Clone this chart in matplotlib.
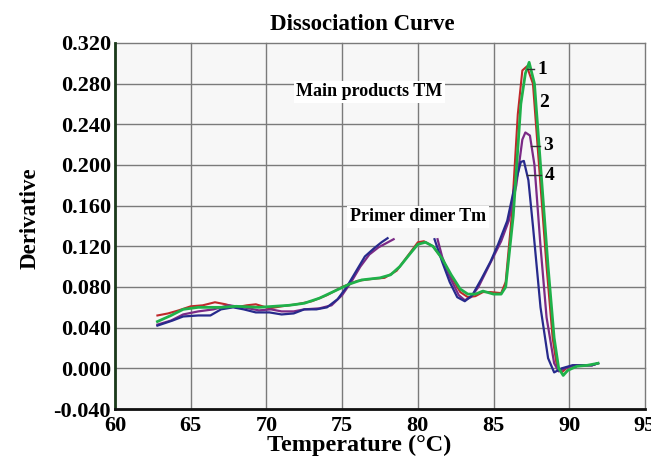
import numpy as np
import matplotlib
matplotlib.use("Agg")
import matplotlib.pyplot as plt

nan = np.nan

# Series 1 (red)
x1 = [62.8, 63.5, 64.2, 65.0, 65.8, 66.6, 67.3, 68.0, 68.7, 69.3, 70.2, 71.0, 72.0, 73.0, 74.0, 75.0, 76.0, 77.0, 77.8, 78.6, 79.3, 80.0, 80.4, 81.0, 81.6, 82.2, 82.8, 83.3, 83.8, 84.3, 84.8, 85.5, 85.8, 86.2, 86.6, 86.9, 87.2, 87.6, 88.0, 88.5, 88.9, 89.2, 89.5, 89.8, 90.3, 91.0, 91.5, 91.9]
y1 = [0.052, 0.054, 0.057, 0.061, 0.062, 0.065, 0.063, 0.060, 0.062, 0.063, 0.059, 0.061, 0.063, 0.066, 0.072, 0.080, 0.086, 0.088, 0.089, 0.096, 0.110, 0.124, 0.125, 0.120, 0.108, 0.090, 0.075, 0.070, 0.071, 0.075, 0.075, 0.074, 0.085, 0.150, 0.250, 0.293, 0.297, 0.280, 0.200, 0.100, 0.030, 0.000, -0.004, 0.000, 0.003, 0.003, 0.003, 0.005]

# Series 2 (green)
x2 = [62.8, 63.7, 64.5, 65.5, 67.0, 68.0, 69.5, 70.5, 71.5, 72.5, 73.5, 74.5, 75.5, 76.3, 77.5, 78.2, 78.8, 79.5, 80.0, 80.5, 81.0, 81.6, 82.2, 82.8, 83.3, 83.8, 84.3, 85.0, 85.5, 85.8, 86.3, 86.8, 87.1, 87.35, 87.7, 88.1, 88.6, 89.0, 89.3, 89.6, 89.9, 90.5, 91.2, 91.9]
y2 = [0.046, 0.052, 0.058, 0.060, 0.060, 0.061, 0.060, 0.061, 0.062, 0.064, 0.069, 0.076, 0.083, 0.087, 0.089, 0.092, 0.100, 0.113, 0.122, 0.124, 0.120, 0.108, 0.092, 0.078, 0.073, 0.073, 0.076, 0.073, 0.073, 0.080, 0.150, 0.260, 0.290, 0.301, 0.280, 0.200, 0.100, 0.030, 0.000, -0.007, -0.002, 0.002, 0.003, 0.005]

# Series 3 (purple)
x3 = [62.8, 63.7, 64.5, 65.5, 66.5, 67.5, 68.5, 69.5, 70.3, 71.0, 71.8, 72.5, 73.5, 74.3, 75.0, 75.6, 76.2, 76.8, 77.4, 77.9, 78.4, nan, 81.3, 81.6, 82.1, 82.7, 83.1, 83.5, 84.0, 84.5, 85.0, 85.5, 86.0, 86.5, 86.9, 87.1, 87.4, 87.7, 88.1, 88.5, 89.0, 89.3, 89.7, 90.3, 91.5, 91.9]
y3 = [0.043, 0.047, 0.053, 0.056, 0.058, 0.062, 0.060, 0.057, 0.058, 0.056, 0.056, 0.058, 0.059, 0.062, 0.072, 0.085, 0.100, 0.112, 0.119, 0.123, 0.127, nan, 0.127, 0.110, 0.090, 0.072, 0.067, 0.070, 0.080, 0.095, 0.110, 0.125, 0.145, 0.180, 0.225, 0.232, 0.229, 0.200, 0.120, 0.050, 0.005, -0.003, 0.000, 0.003, 0.003, 0.005]

# Series 4 (blue)
x4 = [62.8, 63.8, 64.5, 65.5, 66.3, 67.0, 67.8, 68.5, 69.3, 70.2, 71.0, 71.8, 72.5, 73.3, 74.0, 74.7, 75.3, 75.9, 76.5, 77.1, 77.6, 78.0, nan, 81.1, 81.6, 82.1, 82.6, 83.1, 83.6, 84.2, 84.8, 85.3, 85.9, 86.4, 86.8, 87.0, 87.3, 87.6, 88.1, 88.6, 89.0, 89.5, 90.2, 91.5, 91.9]
y4 = [0.042, 0.047, 0.051, 0.052, 0.052, 0.058, 0.060, 0.058, 0.055, 0.055, 0.053, 0.054, 0.058, 0.058, 0.060, 0.068, 0.080, 0.095, 0.110, 0.118, 0.124, 0.128, nan, 0.127, 0.105, 0.085, 0.070, 0.066, 0.072, 0.088, 0.105, 0.122, 0.145, 0.180, 0.203, 0.204, 0.185, 0.140, 0.060, 0.010, -0.004, 0.000, 0.003, 0.003, 0.005]

# Curve number labels: text, text x, text y, leader start x, leader end x
label_text = ["1", "2", "3", "4"]
label_x = [87.9, 88.0, 88.3, 88.4]
label_y = [0.294, 0.261, 0.219, 0.190]
leader_x0 = [87.2, nan, 87.5, 87.2]
leader_x1 = [87.65, nan, 88.05, 88.15]

xticks = [60, 65, 70, 75, 80, 85, 90, 95]
yticks = [-0.040, 0.000, 0.040, 0.080, 0.120, 0.160, 0.200, 0.240, 0.280, 0.320]

serif = ["Liberation Serif", "DejaVu Serif"]

fig = plt.figure(figsize=(6.51, 4.61), dpi=100)
fig.patch.set_facecolor("white")
ax = fig.add_axes([115/651, 1 - 409/461, (645 - 115)/651, (409 - 43)/461])
ax.set_facecolor("#f7f7f7")

ax.plot(x1, y1, color="#c0282a", lw=1.5, zorder=3)
ax.plot(x3, y3, color="#7b2a86", lw=1.6, zorder=3)
ax.plot(x4, y4, color="#272a8c", lw=1.6, zorder=3)
ax.plot(x2, y2, color="#1fb14a", lw=2.0, zorder=4)

for t, tx, ty, lx0, lx1 in zip(label_text, label_x, label_y, leader_x0, leader_x1):
    if not np.isnan(lx0):
        ax.plot([lx0, lx1], [ty, ty], color="#333333", lw=1.0, zorder=5)
    ax.text(tx, ty, t, fontfamily=serif, fontweight="bold", fontsize=14,
            ha="left", va="center", zorder=6)

ax.text(76.8, 0.272, "Main products TM", fontfamily=serif, fontweight="bold",
        fontsize=13, ha="center", va="center", zorder=6,
        bbox=dict(facecolor="white", edgecolor="none", pad=2))
ax.text(80.0, 0.149, "Primer dimer Tm", fontfamily=serif, fontweight="bold",
        fontsize=13, ha="center", va="center", zorder=6,
        bbox=dict(facecolor="white", edgecolor="none", pad=2))

ax.set_xlim(60, 95)
ax.set_ylim(-0.040, 0.320)
ax.set_xticks(xticks)
ax.set_yticks(yticks)
ax.set_xticklabels([str(v) for v in xticks])
ax.set_yticklabels([f"{v:.3f}" for v in yticks])
for lab in ax.get_xticklabels() + ax.get_yticklabels():
    lab.set_fontfamily(serif)
    lab.set_fontweight("bold")
    lab.set_fontsize(16)
ax.tick_params(axis="both", length=0, pad=3)
ax.tick_params(axis="x", pad=5)

ax.grid(True, color="#7a7a7a", lw=1.0, zorder=1)
ax.set_axisbelow(True)
for gl in ax.get_xgridlines() + ax.get_ygridlines():
    gl.set_clip_on(False)

ax.spines["top"].set_visible(False)
ax.spines["right"].set_visible(False)
ax.spines["left"].set_color("#1a3a1a")
ax.spines["left"].set_linewidth(2)
ax.spines["bottom"].set_color("#111111")
ax.spines["bottom"].set_linewidth(2)

fig.text(362/651, 1 - 25/461, "Dissociation Curve", fontfamily=serif,
         fontweight="bold", fontsize=16.5, ha="center", va="center")
fig.text(359/651, 1 - 445/461, "Temperature (°C)", fontfamily=serif,
         fontweight="bold", fontsize=17.5, ha="center", va="center")
fig.text(30/651, 1 - 218/461, "Derivative", fontfamily=serif,
         fontweight="bold", fontsize=16.5, ha="center", va="center", rotation=90)

fig.savefig("out.png", dpi=100, facecolor=fig.get_facecolor())
